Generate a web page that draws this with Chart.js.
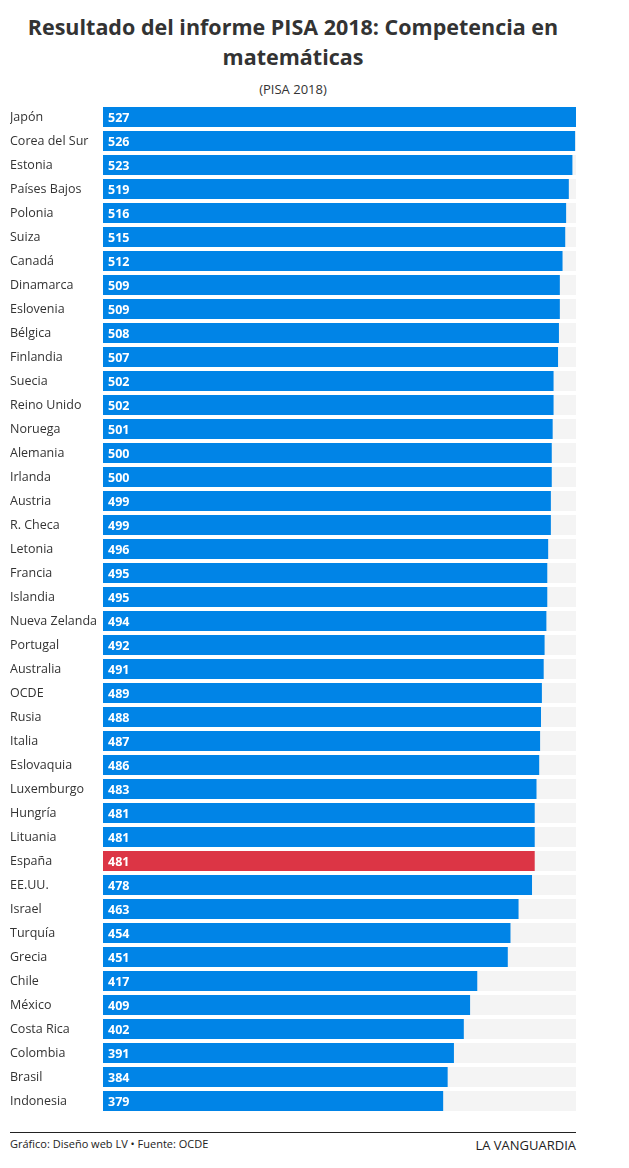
<!DOCTYPE html>
<html><head><meta charset="utf-8">
<script src="https://cdn.jsdelivr.net/npm/chart.js@4"></script>
<style>
body{margin:0;background:#fff;font-family:"Open Sans",sans-serif;width:629px;height:1168px;position:relative;}
h1{position:absolute;top:12px;left:0;width:586px;margin:0;text-align:center;font-size:21.5px;line-height:30px;font-weight:700;color:#333;}
.sub{position:absolute;top:80px;left:0;width:586px;text-align:center;font-size:13px;color:#333;}
#wrap{position:absolute;left:10px;top:105px;width:566px;height:1008px;}
.foot{position:absolute;top:1132px;left:10px;width:566px;border-top:1px solid #222;font-size:11px;color:#222;padding-top:3px;}
.foot span{float:right;font-size:13px;}
</style></head><body>
<h1>Resultado del informe PISA 2018: Competencia en<br>matemáticas</h1>
<div class="sub">(PISA 2018)</div>
<div id="wrap"><canvas id="c"></canvas></div>
<div class="foot">Gráfico: Diseño web LV • Fuente: OCDE<span>LA VANGUARDIA</span></div>
<script>
const countries = ['Japón','Corea del Sur','Estonia','Países Bajos','Polonia','Suiza','Canadá','Dinamarca','Eslovenia','Bélgica','Finlandia','Suecia','Reino Unido','Noruega','Alemania','Irlanda','Austria','R. Checa','Letonia','Francia','Islandia','Nueva Zelanda','Portugal','Australia','OCDE','Rusia','Italia','Eslovaquia','Luxemburgo','Hungría','Lituania','España','EE.UU.','Israel','Turquía','Grecia','Chile','México','Costa Rica','Colombia','Brasil','Indonesia'];
const scores = [527,526,523,519,516,515,512,509,509,508,507,502,502,501,500,500,499,499,496,495,495,494,492,491,489,488,487,486,483,481,481,481,478,463,454,451,417,409,402,391,384,379];
const maxScore = 527;

// country names on the left, score inside each bar
const rowLabels = {
  id:'rowLabels',
  afterDatasetsDraw(chart){
    const ctx = chart.ctx, meta = chart.getDatasetMeta(0);
    ctx.save();
    ctx.textBaseline = 'middle';
    meta.data.forEach((bar,i) => {
      ctx.font = '12.5px "Open Sans"';
      ctx.fillStyle = '#333';
      ctx.fillText(countries[i], 0, bar.y);
      ctx.font = '700 12.5px "Open Sans"';
      ctx.fillStyle = '#fff';
      ctx.fillText(scores[i], chart.chartArea.left + 5, bar.y + 1);
    });
    ctx.restore();
  }
};

new Chart(document.getElementById('c'), {
  type:'bar',
  data:{ labels:countries, datasets:[
    { data:scores, backgroundColor:countries.map(c => c === 'España' ? '#dc3545' : '#0084e7'), order:1 },
    { data:countries.map(() => maxScore), backgroundColor:'#f4f4f4', order:2 }
  ]},
  options:{ indexAxis:'y', responsive:true, maintainAspectRatio:false, animation:false,
    layout:{ padding:{left:93, right:0, top:0, bottom:0} },
    datasets:{ bar:{ grouped:false, categoryPercentage:1, barPercentage:0.833 } },
    plugins:{ legend:{display:false}, tooltip:{enabled:false} },
    scales:{
      x:{ display:false, min:0, max:maxScore },
      y:{ display:false }
    } },
  plugins:[rowLabels]
});
</script>
</body></html>
